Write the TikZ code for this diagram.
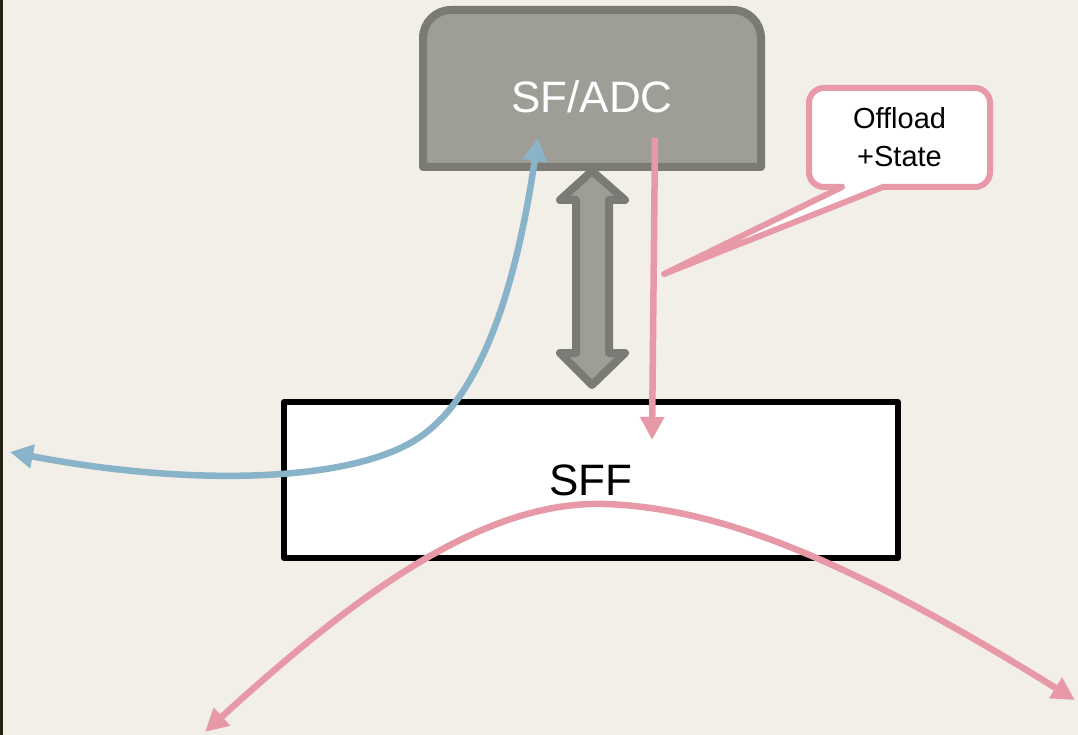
\documentclass[tikz,border=0pt]{standalone}
\usepackage{fontspec}
\setmainfont{Liberation Sans}
\usetikzlibrary{arrows.meta,calc,positioning}
\definecolor{bgbeige}{HTML}{F2EFE8}
\definecolor{edgedark}{HTML}{22220F}
\definecolor{adcfill}{HTML}{9E9E97}
\definecolor{adcline}{HTML}{7A7B74}
\definecolor{flowpink}{HTML}{E899A7}
\definecolor{flowblue}{HTML}{88B3C9}

\begin{document}
\begin{tikzpicture}[x=1pt, y=-1pt,
    >={Triangle[length=23pt,width=23pt]},
    adcbox/.style={minimum width=338pt, minimum height=157pt, inner sep=0pt, outer sep=0pt},
    adcshape/.style={draw=adcline, fill=adcfill, line width=8pt, line join=round},
    adctext/.style={text=white, font=\fontsize{44}{53}\selectfont, inner sep=0pt},
    sffbox/.style={draw=black, fill=white, line width=6pt, line join=round,
      minimum width=614pt, minimum height=156pt, inner sep=0pt, outer sep=0pt,
      font=\fontsize{44}{53}\selectfont},
    callbox/.style={draw=flowpink, fill=white, line width=6pt, rounded corners=15pt,
      minimum width=181pt, minimum height=99pt, inner sep=0pt, outer sep=0pt,
      align=center, font=\fontsize{29}{38}\selectfont},
    linkarrow/.style={draw=adcline, fill=adcfill, line width=8pt, line join=round},
    flow/.style={line width=6.5pt},
    pinkline/.style={draw=flowpink, line width=6pt, line join=round, line cap=round}]
  \useasboundingbox (0,0) rectangle (1078,735);
  % background
  \fill[bgbeige] (0,0) rectangle (1078,735);
  \fill[edgedark] (0,0) rectangle (3,735);
  % SF/ADC
  \node[adcbox] (adc) at (592,88.5) {};
  \draw[adcshape] (adc.south west) [rounded corners=28pt] -- (adc.north west)
    -- (adc.north east) [sharp corners] -- (adc.south east) -- cycle;
  \node[adctext] (adclabel) at (592,97) {SF/ADC};
  % SFF
  \node[sffbox] (sff) at (591,480) {SFF};
  % link between SF/ADC and SFF
  \draw[linkarrow] (adc.south) ++(0,4) -- ++(33,29) -- ++(-16,0) -- ++(0,153)
    -- ++(16,0) -- ++(-33,32) -- ++(-32,-32) -- ++(16,0) -- ++(0,-153)
    -- ++(-16,0) -- cycle;
  % blue flow
  \coordinate (west) at (10,452);
  \draw[flow, flowblue, <->] (west) .. controls (180,485) and (350,485) .. (420,437)
    .. controls (490,389) and (520,260) .. ($(adc.south)+(-54,-29)$);
  % pink flows
  \draw[flow, flowpink, ->] ($(adc.south)+(63,-29)$) -- ($(sff.north)+(61,38)$);
  \coordinate (sw) at (205,732);
  \coordinate (se) at (1075,700);
  \draw[flow, flowpink, <->] (sw) .. controls (350,600) and (480,500) .. (605,504)
    .. controls (720,508) and (850,560) .. (se);
  % callout
  \node[callbox] (offload) at (899.5,137.5) {Offload\\+State};
  \coordinate (pl) at ($(offload.south)+(-57.5,0)$);
  \coordinate (pr) at ($(offload.south)+(-16.5,0)$);
  \coordinate (pointer) at (664,274);
  \fill[white] (pl) -- (pr) -- (pointer) -- cycle;
  \fill[white] ($(pl)+(2,-4)$) rectangle ($(pr)+(-2,1)$);
  \draw[pinkline] (pl) -- (pointer) -- (pr);
\end{tikzpicture}
\end{document}
